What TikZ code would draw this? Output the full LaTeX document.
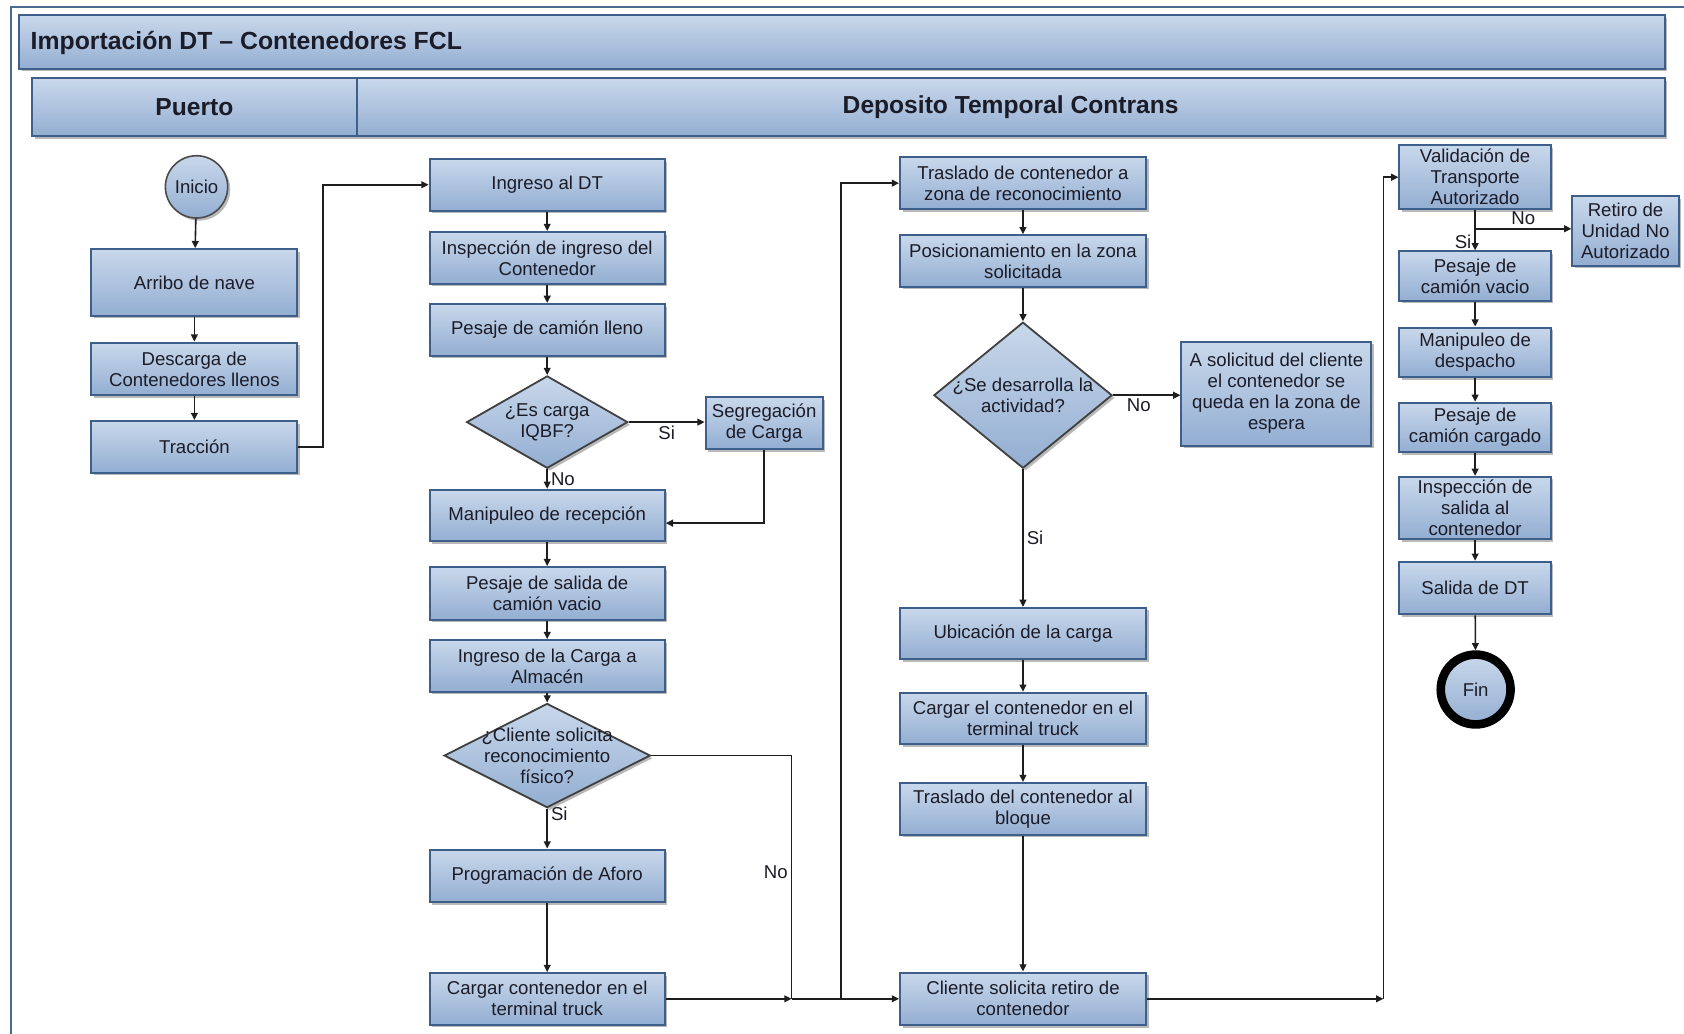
\documentclass[tikz,border=0pt]{standalone}
\usepackage{fontspec}
\setmainfont{Liberation Sans}
\usetikzlibrary{shapes.geometric,arrows.meta,shadows}
\definecolor{fillTop}{HTML}{C9D8EB}
\definecolor{fillBot}{HTML}{93AED2}
\definecolor{edgeBlue}{HTML}{3F5F8B}
\definecolor{frameBlue}{HTML}{4A6A92}
\definecolor{inkDark}{HTML}{1C1C28}
\definecolor{wire}{HTML}{1E1E1E}

\begin{document}
\begin{tikzpicture}[x=0.537pt,y=-0.537pt,
  font=\fontsize{9.3}{10.5}\selectfont, text=inkDark,
  shade3d/.style={top color=fillTop, bottom color=fillBot},
  sh/.style={drop shadow={shadow xshift=1.3pt,shadow yshift=-1.3pt,fill=black!50,opacity=0.55}},
  proc/.style 2 args={rectangle, draw=edgeBlue, line width=1pt, shade3d, sh,
    minimum width=#1*0.537pt, minimum height=#2*0.537pt, inner sep=0pt, align=center},
  dec/.style 2 args={diamond, draw=black!75, line width=0.9pt, shade3d, sh,
    minimum width=#1*0.537pt, minimum height=#2*0.537pt, inner sep=0pt},
  dectext/.style={align=center, inner sep=0pt},
  header/.style 2 args={rectangle, draw=edgeBlue, line width=1pt, shade3d, sh,
    minimum width=#1*0.537pt, minimum height=#2*0.537pt, inner sep=0pt,
    font=\fontsize{12.3}{14}\selectfont\bfseries},
  flow/.style={draw=wire, line width=0.8pt, -{Triangle[length=3.6pt,width=3.4pt]}},
  link/.style={draw=wire, line width=0.8pt},
  tag/.style={font=\fontsize{9.3}{10.5}\selectfont, inner sep=1.5pt},
]
% page
\fill[white] (0,0) rectangle (1568,962);
\useasboundingbox (0,0) rectangle (1568,962);
\draw[frameBlue, line width=0.9pt] (10,6.5) rectangle (1620,1010);

% headers
\node[header={1532}{50}] (titlebar) at (784,39) {};
\node[anchor=west, font=\fontsize{12.4}{14}\selectfont\bfseries] (title) at (22,40) {Importación DT – Contenedores FCL};
\node[header={302}{54}] (lanePuerto) at (181,100) {Puerto};
\node[header={1218}{54}] (laneDeposito) at (941,100) {Deposito Temporal Contrans};

% Puerto lane
\node[circle, draw=black!70, line width=0.8pt, shade3d, sh, minimum size=58*0.537pt, inner sep=0pt] (inicio) at (183,174) {Inicio};
\node[proc={192}{62}] (arribo) at (181,263) {Arribo de nave};
\node[proc={192}{49}] (descarga) at (181,343.5) {Descarga de\\Contenedores llenos};
\node[proc={192}{48}] (traccion) at (181,416) {Tracción};

% second column
\node[proc={219}{48}] (ingreso) at (509.5,172) {Ingreso al DT};
\node[proc={219}{48}] (inspeccion) at (509.5,240) {Inspección de ingreso del\\Contenedor};
\node[proc={219}{48}] (pesajeLleno) at (509.5,307) {Pesaje de camión lleno};
\node[dec={150}{86}, label={[dectext]center:{¿Es carga\\IQBF?}}] (iqbf) at (509.5,393) {};
\node[proc={109}{48}] (segreg) at (711.5,394) {Segregación\\de Carga};
\node[proc={219}{48}] (manip) at (509.5,480) {Manipuleo de recepción};
\node[proc={219}{49}] (pesajeSalida) at (509.5,552.5) {Pesaje de salida de\\camión vacio};
\node[proc={219}{48}] (ingresoCarga) at (509.5,620) {Ingreso de la Carga a\\Almacén};
\node[dec={192}{97}, label={[dectext]center:{¿Cliente solicita\\reconocimiento\\físico?}}] (fisico) at (509.5,703.5) {};
\node[proc={219}{49}] (aforo) at (509.5,815.5) {Programación de Aforo};
\node[proc={219}{48}] (cargarCont) at (509.5,930) {Cargar contenedor en el\\terminal truck};

% third column
\node[proc={229}{49}] (traslado) at (952.5,170.5) {Traslado de contenedor a\\zona de reconocimiento};
\node[proc={229}{48}] (posicion) at (952.5,243) {Posicionamiento en la zona\\solicitada};
\node[dec={166}{136}, label={[dectext]center:{¿Se desarrolla la\\actividad?}}] (actividad) at (952.5,368) {};
\node[proc={177}{97}] (espera) at (1188.5,366.5) {A solicitud del cliente\\el contenedor se\\queda en la zona de\\espera};
\node[proc={229}{48}] (ubicacion) at (952.5,590) {Ubicación de la carga};
\node[proc={229}{48}] (cargarEl) at (952.5,669) {Cargar el contenedor en el\\terminal truck};
\node[proc={229}{48}] (bloque) at (952.5,753) {Traslado del contenedor al\\bloque};
\node[proc={229}{49}] (cliente) at (952.5,930) {Cliente solicita retiro de\\contenedor};

% fourth column
\node[proc={141}{60}] (validacion) at (1373.5,165) {Validación de\\Transporte\\Autorizado};
\node[proc={99}{65}] (retiro) at (1513.5,215) {Retiro de\\Unidad No\\Autorizado};
\node[proc={141}{46}] (pesajeVacio) at (1373.5,257) {Pesaje de\\camión vacio};
\node[proc={141}{46}] (manipDesp) at (1373.5,328) {Manipuleo de\\despacho};
\node[proc={141}{46}] (pesajeCargado) at (1373.5,398) {Pesaje de\\camión cargado};
\node[proc={141}{58}] (inspSalida) at (1373.5,473) {Inspección de\\salida al\\contenedor};
\node[proc={141}{49}] (salida) at (1373.5,547.5) {Salida de DT};
\node[circle, draw=black, line width=4.3pt, shade3d, minimum size=65*0.537pt, inner sep=0pt] (fin) at (1374,642) {Fin};

% junction points
\coordinate (joinA) at (737,930);
\coordinate (riseA) at (783,930);
\coordinate (joinB) at (1288,930);
\coordinate (splitV) at (1373.5,213);

% connectors: Puerto
\draw[flow] (inicio) -- (arribo);
\draw[flow] (arribo) -- (descarga);
\draw[flow] (descarga) -- (traccion);
\draw[flow] (traccion.east) -- ++(23,0) |- (ingreso.west);

% connectors: second column
\draw[flow] (ingreso) -- (inspeccion);
\draw[flow] (inspeccion) -- (pesajeLleno);
\draw[flow] (pesajeLleno) -- (iqbf);
\draw[flow] (iqbf.east) -- node[tag, below] {Si} (segreg.west |- iqbf.east);
\draw[flow] (iqbf.south) -- node[tag, right] {No} (manip.north);
\draw[flow] (segreg.south) |- ([yshift=-3.8pt]manip.east);
\draw[flow] (manip) -- (pesajeSalida);
\draw[flow] (pesajeSalida) -- (ingresoCarga);
\draw[flow] (ingresoCarga) -- (fisico);
\draw[flow] (fisico.south) -- node[tag, right, pos=0.12] {Si} (aforo.north);
\draw[link] (fisico.east) -| node[tag, left, pos=0.74] {No} (joinA);
\draw[flow] (aforo) -- (cargarCont);
\draw[flow] (cargarCont.east) -- (joinA);
\draw[flow] (joinA) -- (cliente.west);
\draw[flow] (riseA) |- (traslado.west);

% connectors: third column
\draw[flow] (traslado) -- (posicion);
\draw[flow] (posicion) -- (actividad);
\draw[flow] (actividad.east) -- node[tag, below, xshift=-4pt] {No} (espera.west |- actividad.east);
\draw[flow] (actividad.south) -- node[tag, right] {Si} (ubicacion.north);
\draw[flow] (ubicacion) -- (cargarEl);
\draw[flow] (cargarEl) -- (bloque);
\draw[flow] (bloque) -- (cliente);
\draw[flow] (cliente.east) -- (joinB);
\draw[flow] (joinB) |- (validacion.west);

% connectors: fourth column
\draw[flow] (validacion.south) -- node[tag, left, pos=0.8] {Si} (pesajeVacio.north);
\draw[flow] (splitV) -- node[tag, above, pos=0.5] {No} (retiro.west |- splitV);
\draw[flow] (pesajeVacio) -- (manipDesp);
\draw[flow] (manipDesp) -- (pesajeCargado);
\draw[flow] (pesajeCargado) -- (inspSalida);
\draw[flow] (inspSalida) -- (salida);
\draw[flow] (salida) -- (fin);
\end{tikzpicture}
\end{document}
